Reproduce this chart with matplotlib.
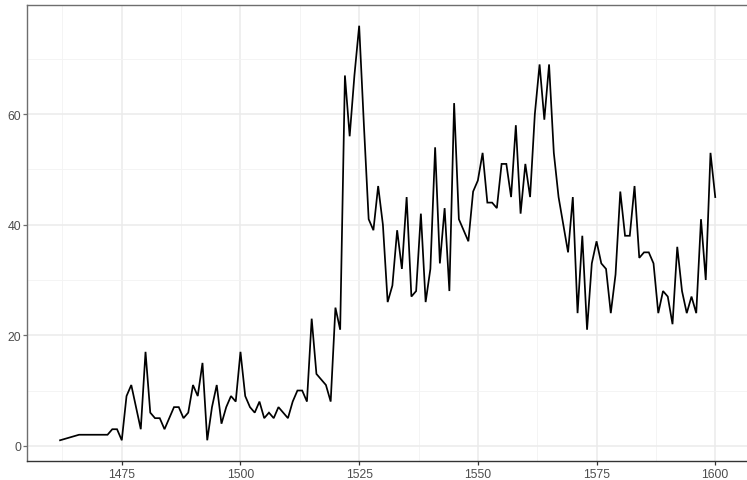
import matplotlib
matplotlib.use("Agg")
import matplotlib.pyplot as plt
from matplotlib.ticker import MultipleLocator, FixedLocator

years = [1462, 1466, 1467, 1468, 1469, 1470, 1471, 1472, 1473, 1474, 1475,
         1476, 1477, 1478, 1479, 1480, 1481, 1482, 1483, 1484, 1485, 1486,
         1487, 1488, 1489, 1490, 1491, 1492, 1493, 1494, 1495, 1496, 1497,
         1498, 1499, 1500, 1501, 1502, 1503, 1504, 1505, 1506, 1507, 1508,
         1509, 1510, 1511, 1512, 1513, 1514, 1515, 1516, 1517, 1518, 1519,
         1520, 1521, 1522, 1523, 1524, 1525, 1526, 1527, 1528, 1529, 1530,
         1531, 1532, 1533, 1534, 1535, 1536, 1537, 1538, 1539, 1540, 1541,
         1542, 1543, 1544, 1545, 1546, 1547, 1548, 1549, 1550, 1551, 1552,
         1553, 1554, 1555, 1556, 1557, 1558, 1559, 1560, 1561, 1562, 1563,
         1564, 1565, 1566, 1567, 1568, 1569, 1570, 1571, 1572, 1573, 1574,
         1575, 1576, 1577, 1578, 1579, 1580, 1581, 1582, 1583, 1584, 1585,
         1586, 1587, 1588, 1589, 1590, 1591, 1592, 1593, 1594, 1595, 1596,
         1597, 1598, 1599, 1600]
counts = [1, 2, 2, 2, 2, 2, 2, 2, 3, 3, 1,
          9, 11, 7, 3, 17, 6, 5, 5, 3, 5, 7,
          7, 5, 6, 11, 9, 15, 1, 7, 11, 4, 7,
          9, 8, 17, 9, 7, 6, 8, 5, 6, 5, 7,
          6, 5, 8, 10, 10, 8, 23, 13, 12, 11, 8,
          25, 21, 67, 56, 67, 76, 58, 41, 39, 47, 40,
          26, 29, 39, 32, 45, 27, 28, 42, 26, 32, 54,
          33, 43, 28, 62, 41, 39, 37, 46, 48, 53, 44,
          44, 43, 51, 51, 45, 58, 42, 51, 45, 60, 69,
          59, 69, 53, 45, 40, 35, 45, 24, 38, 21, 33,
          37, 33, 32, 24, 31, 46, 38, 38, 47, 34, 35,
          35, 33, 24, 28, 27, 22, 36, 28, 24, 27, 24,
          41, 30, 53, 45]

x_major = [1475, 1500, 1525, 1550, 1575, 1600]
y_major = [0, 20, 40, 60]

plt.rcParams['font.family'] = ['Liberation Sans', 'DejaVu Sans']

W, H = 747, 481
fig = plt.figure(figsize=(W / 100, H / 100), dpi=100)
left_px, right_px, top_px, bottom_px = 27.3, 748.0, 6.0, 462.0
ax = fig.add_axes([left_px / W, 1 - bottom_px / H,
                   (right_px - left_px) / W, (bottom_px - top_px) / H])

xmin, xmax = min(years), max(years)
xr = xmax - xmin
ax.set_xlim(xmin - 0.05 * xr, xmax + 0.05 * xr)
ymin, ymax = min(counts), max(counts)
yr = ymax - ymin
ax.set_ylim(ymin - 0.05 * yr, ymax + 0.05 * yr)

ax.xaxis.set_major_locator(FixedLocator(x_major))
ax.xaxis.set_minor_locator(MultipleLocator(12.5))
ax.yaxis.set_major_locator(FixedLocator(y_major))
ax.yaxis.set_minor_locator(MultipleLocator(10))

ax.grid(which="major", color="#EBEBEB", linewidth=1.1)
ax.grid(which="minor", color="#F3F3F3", linewidth=0.6)
ax.set_axisbelow(True)

ax.plot(years, counts, color="black", linewidth=1.25, solid_joinstyle="miter")

for s in ["top", "left"]:
    ax.spines[s].set_color("#6E6E6E")
    ax.spines[s].set_linewidth(1.0)
ax.spines["bottom"].set_color("#333333")
ax.spines["bottom"].set_linewidth(1.0)
ax.spines["right"].set_visible(False)

ax.tick_params(axis="both", which="major", labelsize=8.8, labelcolor="#4D4D4D",
               length=2.75, width=0.9)
ax.tick_params(axis="x", which="major", color="#333333", pad=2.5)
ax.tick_params(axis="y", which="major", color="#6E6E6E", pad=1.5)
ax.tick_params(which="minor", length=0)

fig.savefig("out.png", dpi=100, facecolor="white")
